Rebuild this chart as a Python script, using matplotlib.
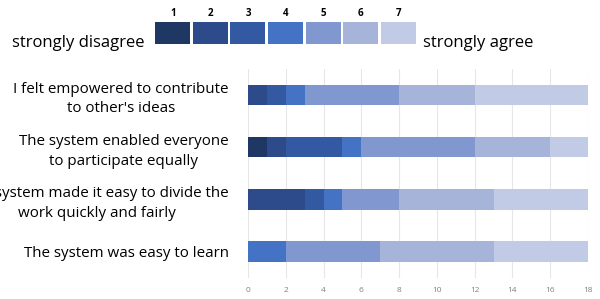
import numpy as np
import matplotlib
matplotlib.use("Agg")
import matplotlib.pyplot as plt

plt.rcParams['font.family'] = ['Open Sans', 'DejaVu Sans']

statements = [
    "I felt empowered to contribute\nto other's ideas",
    "The system enabled everyone\nto participate equally",
    "The system made it easy to divide the\nwork quickly and fairly",
    "The system was easy to learn",
]
levels = ['1', '2', '3', '4', '5', '6', '7']
# counts per likert level (1..7) for each statement
counts = np.array([
    [0, 1, 1, 1, 5, 4, 6],
    [1, 1, 3, 1, 6, 4, 2],
    [0, 3, 1, 1, 3, 5, 5],
    [0, 0, 0, 2, 5, 6, 5],
])
colors = ['#1f3763', '#2d4b8b', '#3359a3', '#4472c4', '#8097cf', '#a6b4da', '#c2cbe6']

fig = plt.figure(figsize=(6, 2.99), dpi=100)
ax = fig.add_axes([0.4133, 0.0712, 0.5667, 0.698])

y = np.arange(len(statements))
left = np.zeros(len(statements))
for i in range(len(levels)):
    ax.barh(y, counts[:, i], left=left, height=0.39, color=colors[i], zorder=3)
    left += counts[:, i]

ax.set_ylim(3.5, -0.5)
ax.set_xlim(0, 18)
ax.set_xticks(np.arange(0, 19, 2))
ax.set_xticklabels([str(v) for v in range(0, 19, 2)], fontsize=6, color='#808080')
ax.set_yticks(y)
ax.set_yticklabels(statements, fontsize=10.9, ha='right', multialignment='center',
                   linespacing=1.4)
ax.tick_params(axis='y', length=0, pad=14)
ax.tick_params(axis='x', length=0, pad=7)
for s in ax.spines.values():
    s.set_visible(False)
ax.grid(axis='x', color='#e6e6e6', linewidth=0.8, zorder=0)

# colour key on top
lax = fig.add_axes([0.2567, 0.8528, 0.4383, 0.0736])
lax.bar(np.arange(len(levels)), 1, width=0.93, color=colors)
lax.set_xlim(-0.5, len(levels) - 0.5)
lax.set_ylim(0, 1)
lax.set_xticks(np.arange(len(levels)))
lax.set_xticklabels(levels, fontsize=7, fontweight='bold')
lax.tick_params(top=True, labeltop=True, bottom=False, labelbottom=False, left=False, labelleft=False, length=0, pad=2)
lax.set_yticks([])
for s in lax.spines.values():
    s.set_visible(False)

fig.text(12 / 600, 1 - 43 / 299, 'strongly disagree', fontsize=12, va='center', ha='left')
fig.text(423 / 600, 1 - 43 / 299, 'strongly agree', fontsize=12, va='center', ha='left')

fig.savefig('out.png', dpi=100)
